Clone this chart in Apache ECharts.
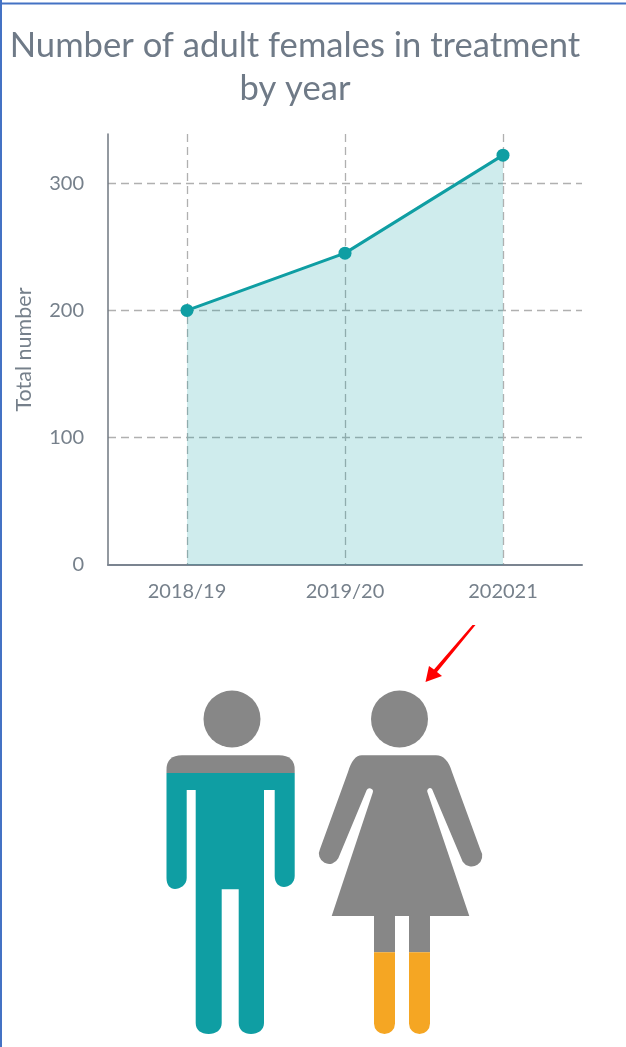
<!DOCTYPE html>
<html><head><meta charset="utf-8">
<style>html,body{margin:0;padding:0;background:#fff}#c{width:626px;height:1047px}</style>
<script src="https://cdn.jsdelivr.net/npm/echarts@6/dist/echarts.min.js"></script>
</head><body><div id="c"></div>
<script>
const titleText = 'Number of adult females in treatment\nby year';
const yAxisName = 'Total number';
const categories = ['2018/19', '2019/20', '202021'];
const totals = [200, 245, 322];
const yMax = 338.6;
const yInterval = 100;

const textColor = '#76808b';
const teal = '#0f9ea3';
const grey = '#878787';
const orange = '#f5a623';
const frameBlue = '#4472c4';

const manTop = 'M166.5 773 V770 Q166.5 755.3 182 755.3 H279 Q294.7 755.3 294.7 770 V773 Z';
const manBody = 'M166.5 773 H294.7 V876 C294.7 883 289 887 284 887 C279 887 274.7 883 274.7 876 V790 H264 V1023 C264 1030 258 1034 251 1034 C244 1034 238.7 1030 238.7 1023 V889.3 H221.7 V1023 C221.7 1030 216 1034 208.7 1034 C201 1034 195.7 1030 195.7 1023 V790 H186.7 V878 C186.7 885 180 889 175 889 C170 889 166.5 885 166.5 878 Z';
const womanBody = 'M361.7 755.3 H436 Q447 755.3 452 772 L480.5 850 A9.7 9.7 0 0 1 462.7 861.7 L432 789 A2.8 2.8 0 0 0 427.3 791.7 L469.3 916 H331.7 L372.7 792.7 A3.3 3.3 0 0 0 366.7 790 L338.3 858.3 A9.7 9.7 0 0 1 320 849 L348 772 Q353 755.3 361.7 755.3 Z';
const womanLegsTop = 'M374 915 H395 V952.3 H374 Z M409 915 H430 V952.3 H409 Z';
const womanLegsBottom = 'M374 952.3 H395 V1023.5 A10.5 10.5 0 0 1 374 1023.5 Z M409 952.3 H430 V1023.5 A10.5 10.5 0 0 1 409 1023.5 Z';
const arrowPath = 'M472.5 625 H475.5 L437 672 L442 676 L425.5 682 L429 666 L434 669.5 Z';

let shapeCount = 0;
function pathEl(d, fill) {
  const name = 'pictoShape' + (shapeCount++);
  echarts.graphic.registerShape(name, echarts.graphic.extendPath(d, {}));
  return { type: name, silent: true, style: { fill: fill } };
}

const chart = echarts.init(document.getElementById('c'), null, { renderer: 'canvas' });
chart.setOption({
  animation: false,
  backgroundColor: '#fff',
  textStyle: { fontFamily: 'Lato' },
  title: {
    text: titleText, left: 290, top: 19, textAlign: 'center',
    textStyle: { fontFamily: 'Lato', fontWeight: 'normal', fontSize: 34.6, lineHeight: 43, color: '#6f7a87' }
  },
  grid: { left: 108, top: 134, width: 474, height: 431, containLabel: false },
  xAxis: {
    type: 'category', data: categories, boundaryGap: true,
    axisLine: { lineStyle: { color: '#7b8490', width: 2 } },
    axisTick: { show: false },
    axisLabel: { color: textColor, fontSize: 20, fontFamily: 'Lato', margin: 17 },
    splitLine: { show: true, alignWithLabel: true, lineStyle: { color: '#b0b0b0', type: [8, 5], width: 1.3 } }
  },
  yAxis: {
    type: 'value', min: 0, max: yMax, interval: yInterval,
    name: yAxisName, nameLocation: 'middle', nameGap: 73, nameRotate: 90,
    nameTextStyle: { color: textColor, fontSize: 21.5, fontFamily: 'Lato' },
    axisLine: { show: true, lineStyle: { color: '#6f7780', width: 1.5 } },
    axisTick: { show: false },
    axisLabel: { color: textColor, fontSize: 20, fontFamily: 'Lato', margin: 24, showMaxLabel: false },
    splitLine: { show: true, showMaxLine: false, showMinLine: false, lineStyle: { color: '#b0b0b0', type: [8, 5], width: 1.3 } }
  },
  series: [{
    type: 'line', data: totals, symbol: 'circle', symbolSize: 13,
    lineStyle: { color: teal, width: 3 },
    itemStyle: { color: teal },
    areaStyle: { color: 'rgba(16,160,165,0.2)', opacity: 1 }
  }],
  graphic: [
    { type: 'rect', silent: true, shape: { x: 0, y: 0, width: 2, height: 1047 }, style: { fill: frameBlue } },
    { type: 'rect', silent: true, shape: { x: 0, y: 2.5, width: 626, height: 2 }, style: { fill: frameBlue } },
    { type: 'circle', silent: true, shape: { cx: 232, cy: 719, r: 28.5 }, style: { fill: grey } },
    pathEl(manTop, grey),
    pathEl(manBody, teal),
    { type: 'circle', silent: true, shape: { cx: 399.5, cy: 719, r: 28.5 }, style: { fill: grey } },
    pathEl(womanLegsTop, grey),
    pathEl(womanLegsBottom, orange),
    pathEl(womanBody, grey),
    pathEl(arrowPath, '#ff0000')
  ]
});
</script></body></html>
